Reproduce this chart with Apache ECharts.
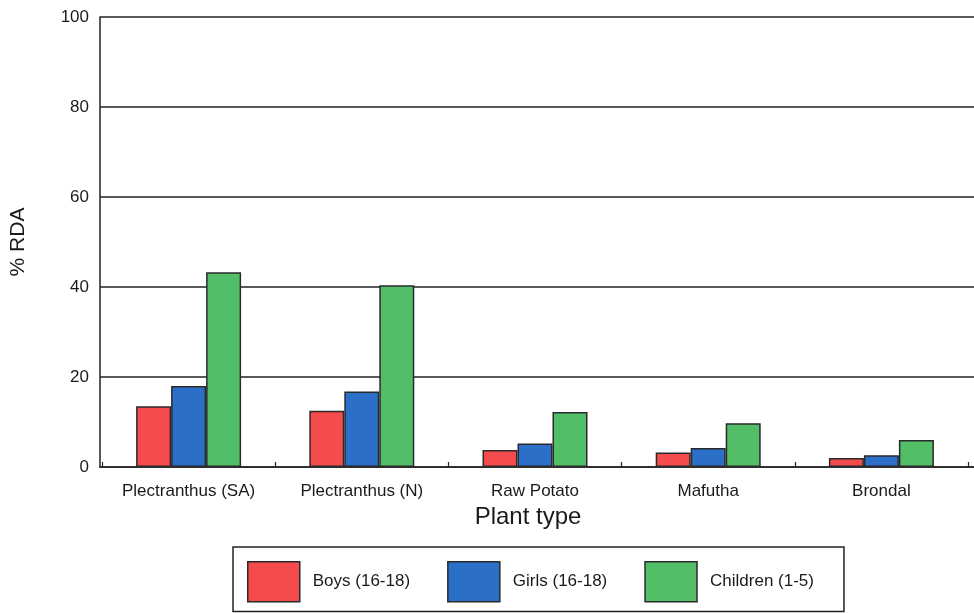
<!DOCTYPE html>
<html>
<head>
<meta charset="utf-8">
<script src="https://cdn.jsdelivr.net/npm/echarts@6/dist/echarts.min.js"></script>
<style>
html,body{margin:0;padding:0;background:#fff;}
#chart{width:974px;height:613px;}
</style>
</head>
<body>
<div id="chart"></div>
<script>
const categories = ['Plectranthus (SA)', 'Plectranthus (N)', 'Raw Potato', 'Mafutha', 'Brondal'];
const boys = [13.5, 12.5, 3.8, 3.2, 2.0];
const girls = [18.0, 16.8, 5.2, 4.2, 2.6];
const children = [43.3, 40.4, 12.2, 9.7, 6.0];
const seriesNames = ['Boys (16-18)', 'Girls (16-18)', 'Children (1-5)'];
const yTicks = { min: 0, max: 100, interval: 20 };

const colors = ['#f44b4c', '#2c6fc8', '#52bf68'];
const font = 'Liberation Sans, Arial, sans-serif';
const chart = echarts.init(document.getElementById('chart'), null, { renderer: 'canvas' });

function bar(name, data, color) {
  return {
    name: name, type: 'bar', data: data,
    xAxisIndex: 1, yAxisIndex: 1,
    barWidth: 35, barGap: '0%',
    itemStyle: { color: color, borderColor: '#2a2a2a', borderWidth: 1.5 }
  };
}

chart.setOption({
  animation: false,
  backgroundColor: '#fff',
  textStyle: { fontFamily: font },
  grid: [
    { left: 99, right: 0, top: 17, bottom: 146 },
    { left: 102, right: 6, top: 17, bottom: 146 }
  ],
  xAxis: [
    { type: 'value', gridIndex: 0, min: 0, max: 1,
      axisLine: { show: true, lineStyle: { color: '#222', width: 1.5 } },
      axisTick: { show: false }, axisLabel: { show: false }, splitLine: { show: false } },
    { type: 'category', gridIndex: 1, data: categories,
      axisLine: { show: false },
      axisTick: { show: true, inside: true, length: 5, lineStyle: { color: '#222', width: 1.2 } },
      axisLabel: { color: '#1a1a1a', fontSize: 17, margin: 16, fontFamily: font },
      name: 'Plant type', nameLocation: 'middle', nameGap: 36,
      nameTextStyle: { color: '#1a1a1a', fontSize: 24, fontFamily: font, padding: [0, 14, 0, 0] } }
  ],
  yAxis: [
    { type: 'value', gridIndex: 0, min: yTicks.min, max: yTicks.max, interval: yTicks.interval,
      axisLine: { show: true, lineStyle: { color: '#222', width: 1.5 } },
      axisTick: { show: false },
      axisLabel: { color: '#1a1a1a', fontSize: 17, margin: 11, fontFamily: font },
      splitLine: { show: true, lineStyle: { color: '#222', width: 1.5 } },
      name: '% RDA', nameLocation: 'middle', nameGap: 71, nameRotate: 90,
      nameTextStyle: { color: '#1a1a1a', fontSize: 21, fontFamily: font } },
    { type: 'value', gridIndex: 1, min: yTicks.min, max: yTicks.max, show: false }
  ],
  legend: {
    data: seriesNames,
    left: 233, top: 547,
    orient: 'horizontal',
    itemWidth: 52, itemHeight: 40, itemGap: 37,
    padding: [14, 30, 9, 14],
    borderColor: '#222', borderWidth: 1.5,
    icon: 'rect',
    itemStyle: { borderColor: '#2a2a2a', borderWidth: 1.5 },
    textStyle: { color: '#1a1a1a', fontSize: 17, fontFamily: font, padding: [0, 0, 0, 8] }
  },
  series: [
    bar(seriesNames[0], boys, colors[0]),
    bar(seriesNames[1], girls, colors[1]),
    bar(seriesNames[2], children, colors[2])
  ]
});
</script>
</body>
</html>
